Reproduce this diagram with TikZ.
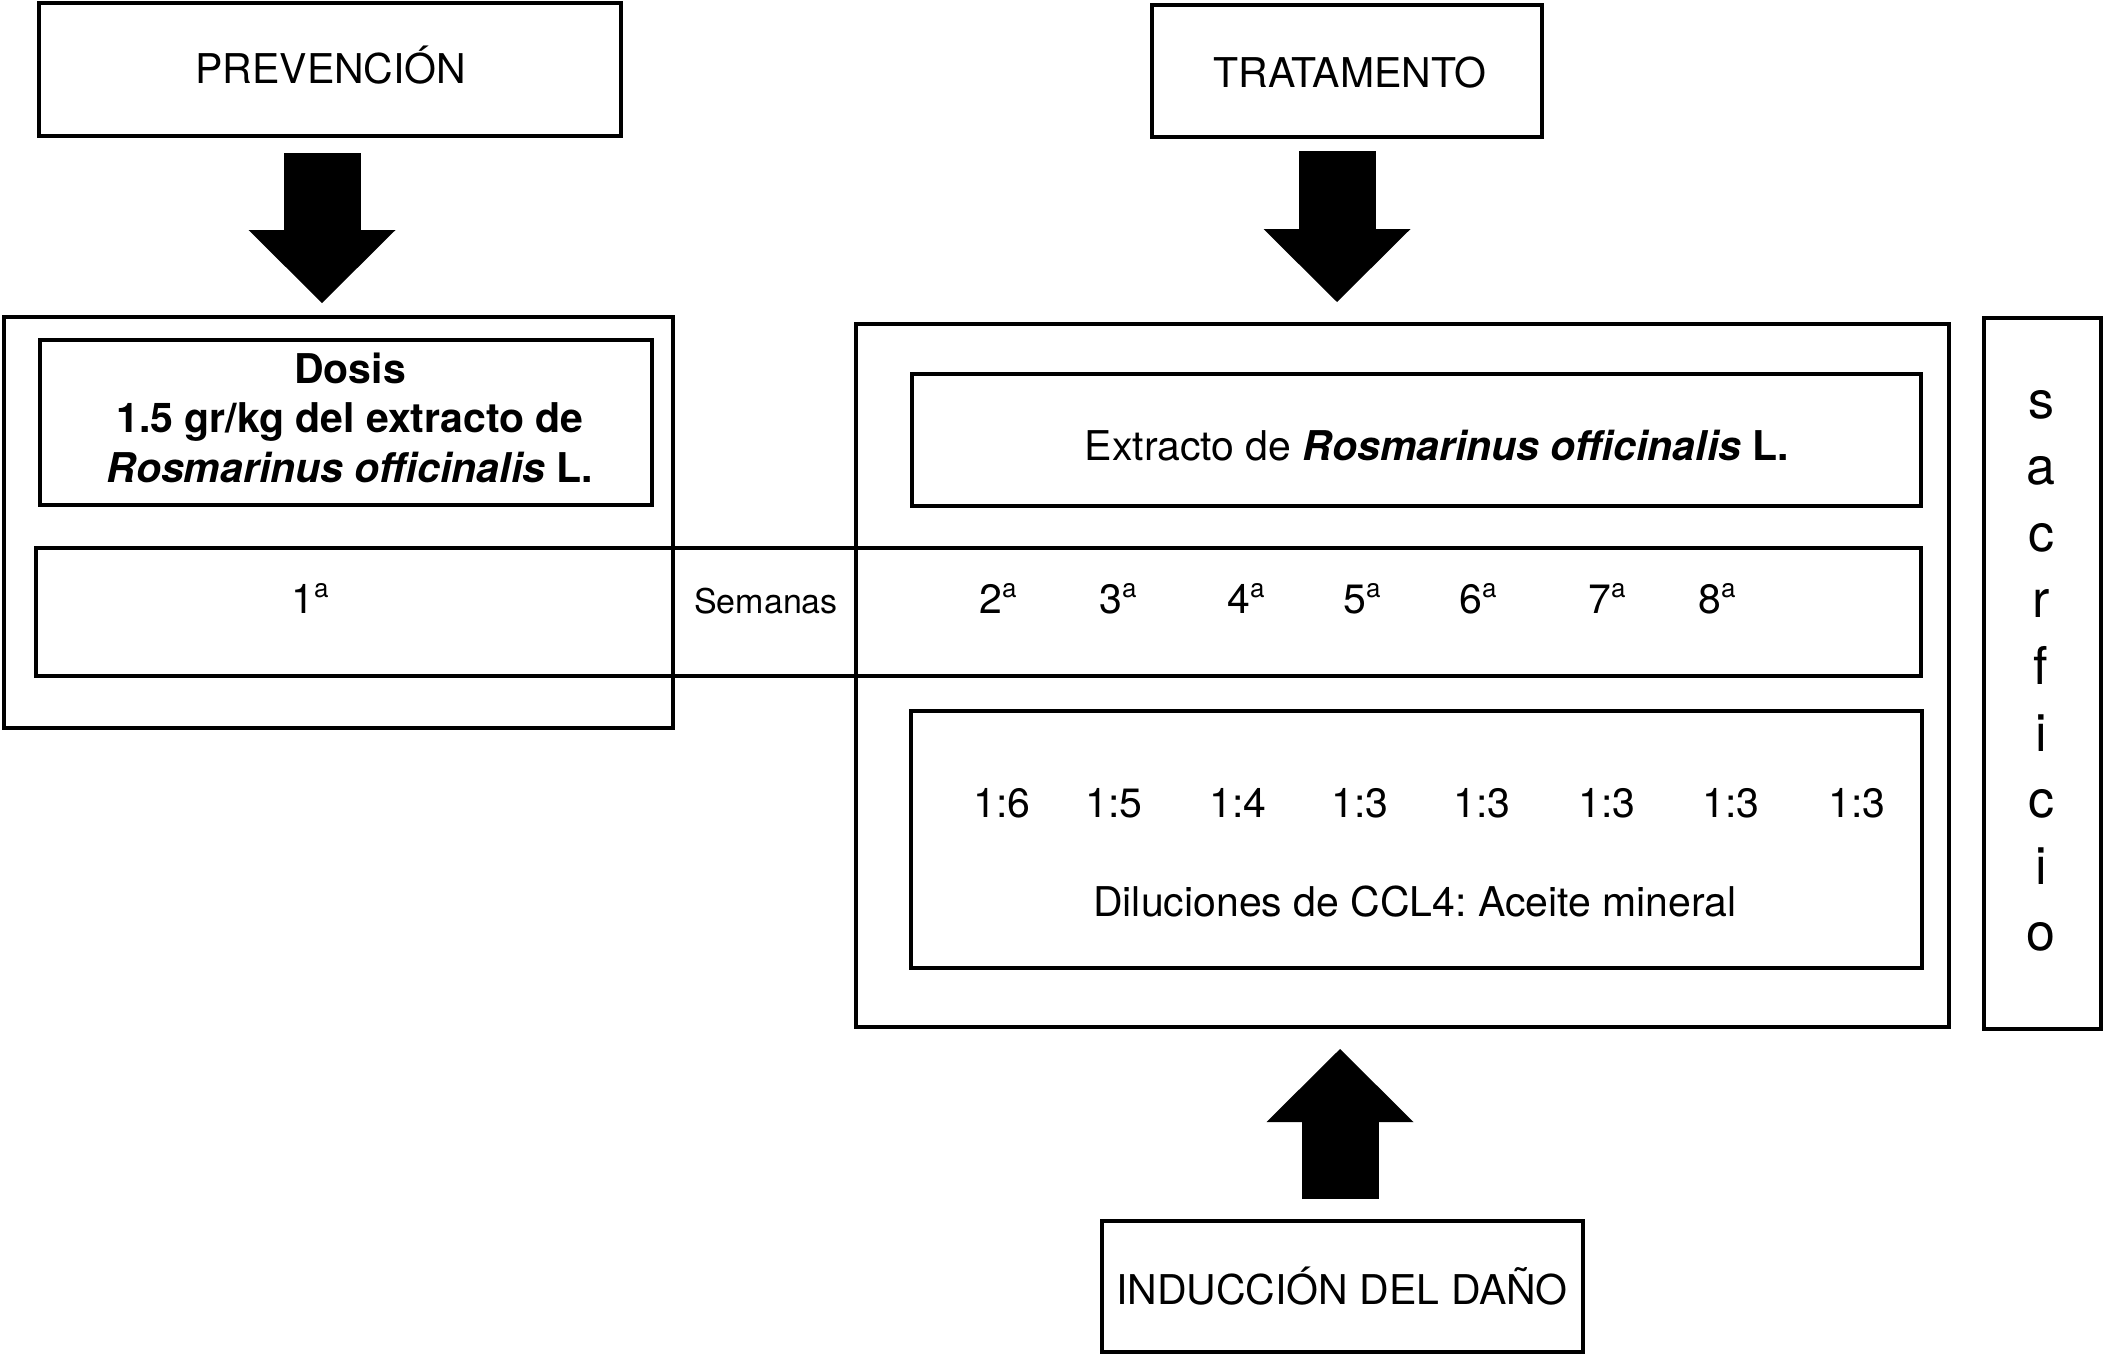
\documentclass[tikz,border=0pt]{standalone}
\usepackage{fontspec}
\setmainfont{TeX Gyre Heros}
\usetikzlibrary{arrows.meta}
\newcommand\ordA{\raisebox{7.8pt}{\fontsize{13pt}{13pt}\selectfont a}}
\frenchspacing
\begin{document}
\begin{tikzpicture}[x=0.5pt,y=-0.5pt,
  box/.style={draw,line width=2pt,inner sep=0pt,outer sep=0pt},
  lbl/.style={font=\fontsize{20.5pt}{24pt}\selectfont, inner sep=0pt, anchor=base},
  lblb/.style={lbl, font=\fontsize{20.5pt}{24pt}\selectfont\bfseries},
  small/.style={lbl, font=\fontsize{17pt}{20pt}\selectfont},
  big/.style={lbl, font=\fontsize{26pt}{30pt}\selectfont},
  bigarrow/.style={line width=38.5pt, -{Triangle[width=73.5pt,length=36.5pt,line width=0pt]}}]
\useasboundingbox (0,0) rectangle (2105,1355);
% boxes
\node[box, minimum width=291pt, minimum height=66.5pt] (prev) at (330,69.5) {};
\node[box, minimum width=195pt, minimum height=66pt] (trat) at (1347,71) {};
\node[box, minimum width=334.5pt, minimum height=205.5pt] (lout) at (338.5,522.5) {};
\node[box, minimum width=306pt, minimum height=82.5pt] (dosis) at (346,422.5) {};
\node[box, minimum width=942.5pt, minimum height=64pt] (weeks) at (978.5,612) {};
\node[box, minimum width=546.5pt, minimum height=351.5pt] (rout) at (1402.5,675.5) {};
\node[box, minimum width=504.5pt, minimum height=66pt] (extr) at (1416.5,440) {};
\node[box, minimum width=505.5pt, minimum height=128.5pt] (dil) at (1416.5,839.5) {};
\node[box, minimum width=58.5pt, minimum height=355.5pt] (sac) at (2042.5,673.5) {};
\node[box, minimum width=240.5pt, minimum height=65.5pt] (ind) at (1342.5,1286.5) {};
% labels
\node[lbl] (tprev) at (331,83) {PREVENCIÓN};
\node[lbl] (ttrat) at (1350,87) {TRATAMENTO};
\node[lblb] (d1) at (350,383) {Dosis};
\node[lblb] (d2) at (350,432) {1.5 gr/kg del extracto de};
\node[lblb] (d3) at (350,482) {\textit{Rosmarinus officinalis} L.};
\node[lbl] (w1) at (310,613) {1\ordA};
\node[small] (sem) at (766,613) {Semanas};
\foreach \n/\x in {2/998,3/1118,4/1246,5/1362,6/1478,7/1607,8/1717}
  \node[lbl] (w\n) at (\x,613) {\n\ordA};
\node[lbl] (text) at (1437,460) {Extracto de \textbf{\textit{Rosmarinus officinalis}} \textbf{L.}};
\foreach \r/\x [count=\i] in {6/1002,5/1114,4/1238,3/1360,3/1482,3/1607,3/1731,3/1857}
  \node[lbl] (r\i) at (\x,817) {1:\r};
\node[lbl] (tdil) at (1415,916) {Diluciones de CCL4: Aceite mineral};
\node[lbl] (tind) at (1342,1304) {INDUCCIÓN DEL DAÑO};
\foreach \c [count=\i from 0] in {s,a,c,r,f,i,c,i,o}
  \node[big] (s\i) at (2041,418+66.6*\i) {\c};
% block arrows
\coordinate (a1s) at (322,153); \coordinate (a1e) at (322,303);
\coordinate (a2s) at (1337,151); \coordinate (a2e) at (1337,302);
\coordinate (a3s) at (1340,1199); \coordinate (a3e) at (1340,1049);
\draw[bigarrow] (a1s) -- (a1e);
\draw[bigarrow] (a2s) -- (a2e);
\draw[bigarrow] (a3s) -- (a3e);
\end{tikzpicture}
\end{document}
